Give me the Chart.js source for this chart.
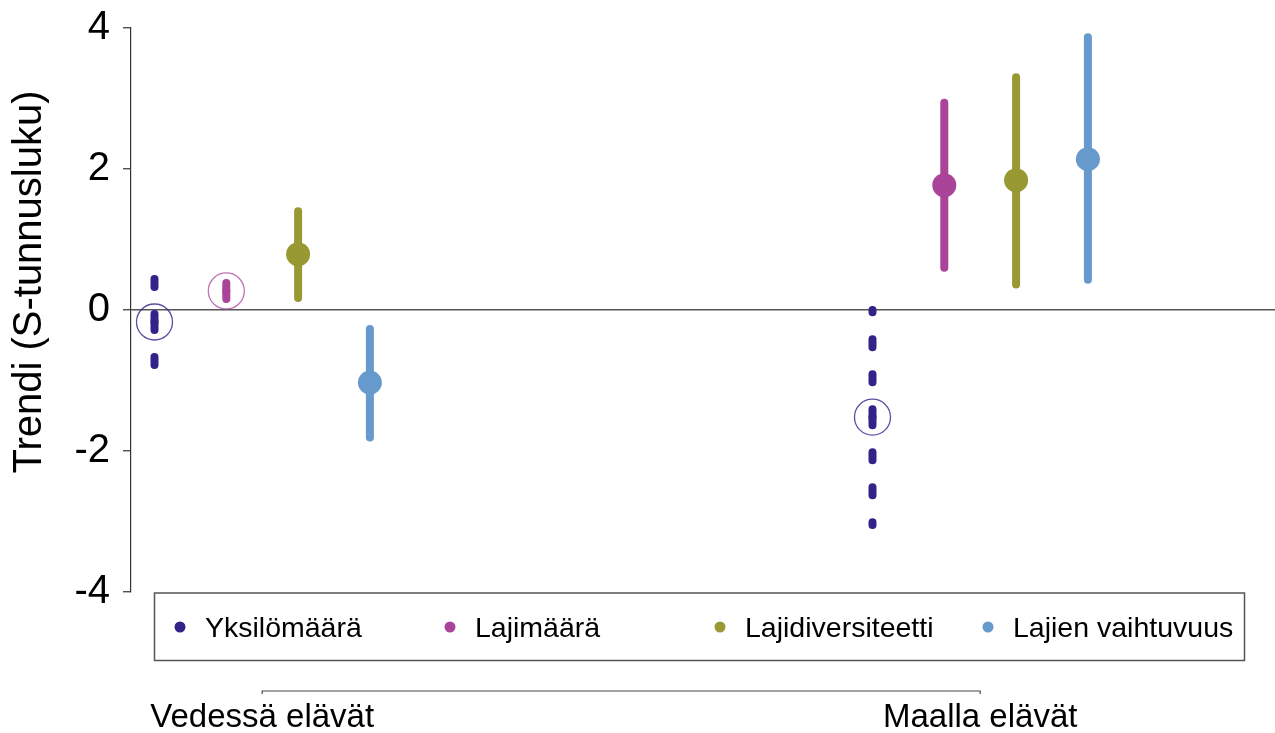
<!DOCTYPE html>
<html>
<head>
<meta charset="utf-8">
<title>Trendi (S-tunnusluku)</title>
<script src="https://cdn.jsdelivr.net/npm/chart.js@4.4.1/dist/chart.umd.min.js"></script>
<style>
  html, body { margin: 0; padding: 0; background: #ffffff; overflow: hidden; }
  #wrap { width: 1275px; height: 733px; position: relative; }
</style>
</head>
<body>
<div id="wrap"><canvas id="chart"></canvas></div>
<script>
// Habitat groups and the four trend measures
const groups = ['Vedessä elävät', 'Maalla elävät'];
const measures = ['Yksilömäärä', 'Lajimäärä', 'Lajidiversiteetti', 'Lajien vaihtuvuus'];

// Trend estimates (S statistic) with lower / upper interval limits per group
const vedessaEstimate = [-0.17, 0.27, 0.79, -1.03];
const vedessaLower    = [-0.80, 0.13, 0.17, -1.81];
const vedessaUpper    = [ 0.45, 0.42, 1.40, -0.27];
const maallaEstimate  = [-1.52, 1.77, 1.84,  2.14];
const maallaLower     = [-3.05, 0.60, 0.36,  0.43];
const maallaUpper     = [ 0.00, 2.94, 3.30,  3.87];

// Significant trends get a filled marker and a solid bar
const vedessaSignificant = [false, false, true, true];
const maallaSignificant  = [false, true,  true, true];

// Value axis tick labels
const yTicks = [-4, -2, 0, 2, 4];

// ---- styling / layout ----
const colors = ['#332288', '#AA4499', '#999933', '#6699CC'];
const ringColors = ['rgba(51,34,136,0.8)', 'rgba(170,68,153,0.75)', 'rgba(153,153,51,0.8)', 'rgba(102,153,204,0.8)'];
const FONT = "'Liberation Sans', Arial, sans-serif";
const groupStart = [1, 11];            // x position of the first measure in each group
const xPos = (g, i) => groupStart[g] + i;
const groupCenter = g => groupStart[g] + (measures.length - 1) / 2;

const estimates = [vedessaEstimate, maallaEstimate];
const lowers = [vedessaLower, maallaLower];
const uppers = [vedessaUpper, maallaUpper];
const significant = [vedessaSignificant, maallaSignificant];

const datasets = [];

// interval bars
groups.forEach((_, g) => {
  measures.forEach((m, i) => {
    const x = xPos(g, i);
    const base = {
      type: 'line', showLine: true, order: 2,
      borderColor: colors[i], borderWidth: 8, borderCapStyle: 'round',
      pointRadius: 0, fill: false, tension: 0
    };
    if (significant[g][i]) {
      datasets.push(Object.assign({}, base, {
        label: m + ' bar',
        data: [{ x: x, y: lowers[g][i] }, { x: x, y: uppers[g][i] }]
      }));
    } else {
      // dotted bars run outward from the estimate in both directions
      const dashed = Object.assign({}, base, { borderDash: [8, 27] });
      datasets.push(Object.assign({}, dashed, {
        label: m + ' upper',
        data: [{ x: x, y: estimates[g][i] }, { x: x, y: uppers[g][i] }]
      }));
      datasets.push(Object.assign({}, dashed, {
        label: m + ' lower',
        data: [{ x: x, y: estimates[g][i] }, { x: x, y: lowers[g][i] }]
      }));
    }
  });
});

// estimate markers, one dataset per measure
measures.forEach((m, i) => {
  const sig = groups.map((_, g) => significant[g][i]);
  datasets.push({
    type: 'scatter', label: m, order: 0, showLine: false,
    data: groups.map((_, g) => ({ x: xPos(g, i), y: estimates[g][i] })),
    pointRadius: sig.map(s => s ? 12 : 18),
    pointBackgroundColor: sig.map(s => s ? colors[i] : 'rgba(0,0,0,0)'),
    pointBorderColor: sig.map(s => s ? colors[i] : ringColors[i]),
    pointBorderWidth: sig.map(s => s ? 0 : 1.3),
    pointHoverRadius: sig.map(s => s ? 12 : 18)
  });
});

// axis title, legend box and the habitat labels underneath
const decor = {
  id: 'decor',
  afterDraw(chart) {
    const ctx = chart.ctx;
    const xs = chart.scales.x;
    ctx.save();

    // y-axis title
    ctx.save();
    ctx.translate(41, 282);
    ctx.rotate(-Math.PI / 2);
    ctx.fillStyle = '#000';
    ctx.font = '40px ' + FONT;
    ctx.textAlign = 'center';
    ctx.textBaseline = 'alphabetic';
    ctx.fillText('Trendi (S-tunnusluku)', 0, 0);
    ctx.restore();

    // legend
    ctx.strokeStyle = '#555';
    ctx.lineWidth = 1.5;
    ctx.strokeRect(154.5, 593, 1090, 67.5);
    const dotX = [180, 450, 720, 988];
    ctx.font = '28.5px ' + FONT;
    ctx.textAlign = 'left';
    ctx.textBaseline = 'alphabetic';
    measures.forEach((m, i) => {
      ctx.fillStyle = colors[i];
      ctx.beginPath();
      ctx.arc(dotX[i], 627, 5.5, 0, Math.PI * 2);
      ctx.fill();
      ctx.fillStyle = '#000';
      ctx.fillText(m, dotX[i] + 25, 637);
    });

    // group axis
    const x0 = xs.getPixelForValue(groupCenter(0));
    const x1 = xs.getPixelForValue(groupCenter(1));
    ctx.strokeStyle = '#444';
    ctx.lineWidth = 1.2;
    ctx.beginPath();
    ctx.moveTo(x0, 694);
    ctx.lineTo(x0, 691);
    ctx.lineTo(x1, 691);
    ctx.lineTo(x1, 694);
    ctx.stroke();
    ctx.fillStyle = '#000';
    ctx.font = '33px ' + FONT;
    ctx.textAlign = 'center';
    groups.forEach((name, g) => {
      ctx.fillText(name, xs.getPixelForValue(groupCenter(g)), 727);
    });
    ctx.restore();
  }
};

Chart.defaults.font.family = FONT;

new Chart(document.getElementById('chart'), {
  type: 'scatter',
  data: { datasets: datasets },
  options: {
    responsive: true,
    maintainAspectRatio: false,
    animation: false,
    events: [],
    layout: { autoPadding: false, padding: { left: 0, right: 0, top: 28, bottom: 141 } },
    plugins: { legend: { display: false }, tooltip: { enabled: false } },
    scales: {
      x: { type: 'linear', display: false, min: 0.6727, max: 16.606 },
      y: {
        type: 'linear', min: -4, max: 4,
        afterBuildTicks: s => { s.ticks = yTicks.map(v => ({ value: v })); },
        afterFit: s => { s.width = 131; s.paddingTop = 0; s.paddingBottom = 0; },
        border: { display: true, color: '#333', width: 1.2 },
        grid: {
          drawOnChartArea: true,
          color: c => (c.tick && c.tick.value === 0) ? '#555' : 'rgba(0,0,0,0)',
          lineWidth: 1.5,
          drawTicks: true, tickLength: 8, tickColor: '#333', tickWidth: 1.2
        },
        ticks: {
          font: { family: FONT, size: 40 }, color: '#000', padding: 13,
          callback: v => String(v)
        }
      }
    }
  },
  plugins: [decor]
});
</script>
</body>
</html>
